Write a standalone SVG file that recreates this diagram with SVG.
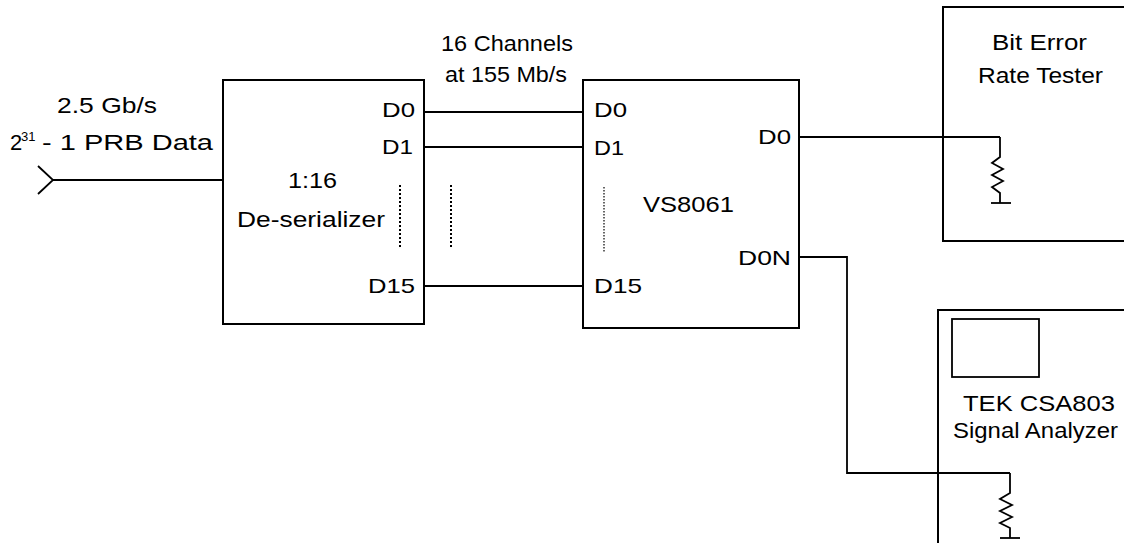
<svg xmlns="http://www.w3.org/2000/svg" width="1124" height="543" viewBox="0 0 1124 543">
<style>
  text { font-family: "Liberation Sans", Arial, sans-serif; font-size: 22px; fill: #000; }
  .pin { font-size: 21px; }
  .box { fill: none; stroke: #000; stroke-width: 2; }
  .wire { fill: none; stroke: #000; stroke-width: 1.8; }
  .dots { fill: none; stroke: #000; stroke-width: 2; stroke-dasharray: 2 2; }
</style>
<rect width="1124" height="543" fill="#fff"/>

<g id="input">
  <text x="57" y="113" textLength="100" lengthAdjust="spacingAndGlyphs">2.5 Gb/s</text>
  <text x="10" y="150">2<tspan x="21" y="141" font-size="13">31</tspan><tspan x="42" y="150" textLength="171" lengthAdjust="spacingAndGlyphs">- 1 PRB Data</tspan></text>
  <path class="wire" d="M38,166 L53,180 L38,194"/>
</g>

<g id="deserializer">
  <rect class="box" x="223" y="80" width="201" height="244"/>
  <text x="288" y="188" textLength="49" lengthAdjust="spacingAndGlyphs">1:16</text>
  <text x="237" y="227" textLength="148" lengthAdjust="spacingAndGlyphs">De-serializer</text>
  <text class="pin" x="382" y="117" textLength="33" lengthAdjust="spacingAndGlyphs">D0</text>
  <text class="pin" x="382" y="154" textLength="31" lengthAdjust="spacingAndGlyphs">D1</text>
  <text class="pin" x="368" y="293" textLength="47" lengthAdjust="spacingAndGlyphs">D15</text>
  <line class="dots" x1="400" y1="185" x2="400" y2="247"/>
</g>

<g id="channels-label">
  <text x="441" y="51" textLength="132" lengthAdjust="spacingAndGlyphs">16 Channels</text>
  <text x="445" y="82" textLength="122" lengthAdjust="spacingAndGlyphs">at 155 Mb/s</text>
  <line class="dots" x1="451" y1="185" x2="451" y2="247"/>
</g>

<g id="vs8061">
  <rect class="box" x="583" y="80" width="216" height="248"/>
  <text x="643" y="212" textLength="91" lengthAdjust="spacingAndGlyphs">VS8061</text>
  <text class="pin" x="594" y="117" textLength="33" lengthAdjust="spacingAndGlyphs">D0</text>
  <text class="pin" x="594" y="155" textLength="30" lengthAdjust="spacingAndGlyphs">D1</text>
  <text class="pin" x="594" y="293" textLength="48" lengthAdjust="spacingAndGlyphs">D15</text>
  <text class="pin" x="758" y="144" textLength="33" lengthAdjust="spacingAndGlyphs">D0</text>
  <text class="pin" x="738" y="265" textLength="53" lengthAdjust="spacingAndGlyphs">D0N</text>
  <line stroke="#000" stroke-width="1.2" stroke-dasharray="1.5 1.5" x1="604" y1="187" x2="604" y2="252"/>
</g>

<g id="bert">
  <path class="box" d="M1130,7 H943 V241 H1130"/>
  <text x="992" y="50" textLength="95" lengthAdjust="spacingAndGlyphs">Bit Error</text>
  <text x="978" y="83" textLength="125" lengthAdjust="spacingAndGlyphs">Rate Tester</text>
  <path class="wire" d="M1000,137 V157 L992,163 L1003,169 L992,175 L1003,181 L992,187 L1000,193 V203"/>
  <line class="wire" x1="991" y1="203" x2="1011" y2="203"/>
</g>

<g id="tek">
  <path class="box" d="M1130,310 H938 V550"/>
  <rect stroke="#000" stroke-width="1.8" fill="none" x="952" y="319" width="87" height="58"/>
  <text x="963" y="411" font-size="23" textLength="152" lengthAdjust="spacingAndGlyphs">TEK CSA803</text>
  <text x="953" y="438" font-size="19" textLength="165" lengthAdjust="spacingAndGlyphs">Signal Analyzer</text>
  <path class="wire" d="M1010,473 V493 L1000,499 L1012,505 L1000,511 L1012,517 L1000,523 L1010,528 V538"/>
  <line class="wire" x1="1000" y1="538" x2="1020" y2="538"/>
</g>

<g id="connectors">
  <line class="wire" x1="53" y1="180" x2="223" y2="180"/>
  <line class="wire" stroke-width="2.6" x1="424" y1="112" x2="583" y2="112"/>
  <line class="wire" x1="424" y1="147" x2="583" y2="147"/>
  <line class="wire" x1="424" y1="286" x2="583" y2="286"/>
  <polyline class="wire" points="799,137 1000,137"/>
  <polyline class="wire" stroke-width="2.2" points="799,257 847,257 847,473 1010,473"/>
</g>
</svg>
